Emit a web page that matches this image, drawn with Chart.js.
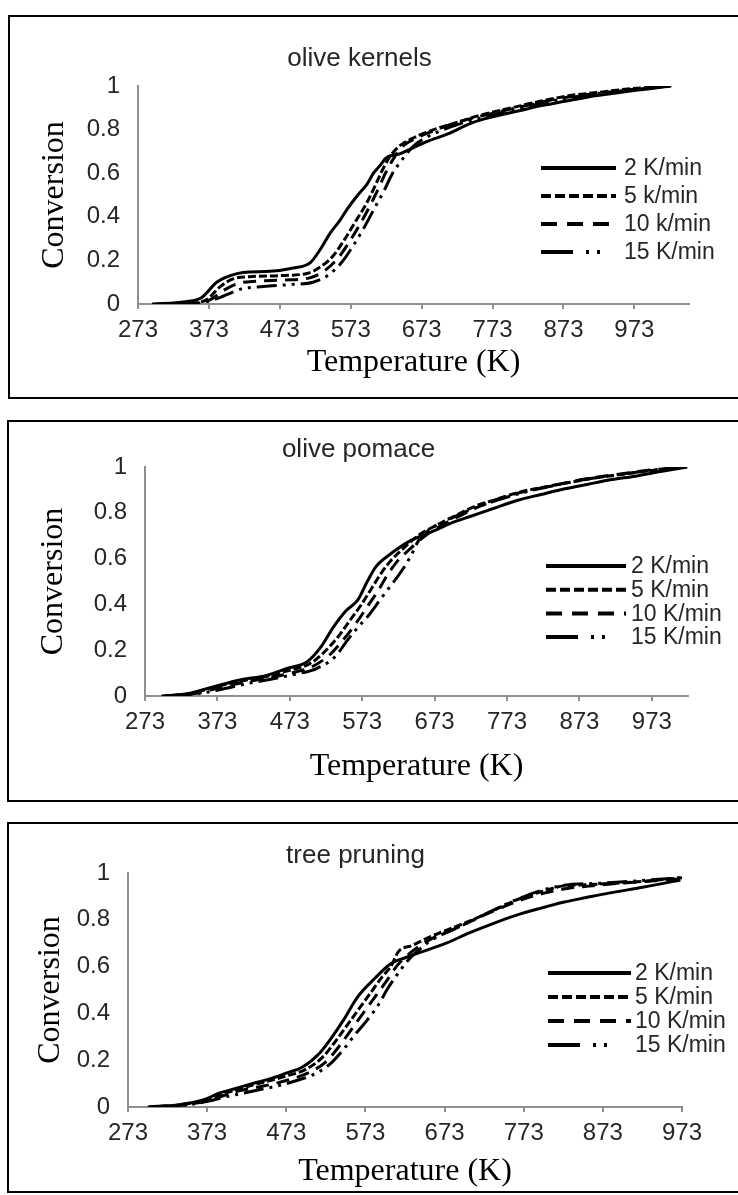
<!DOCTYPE html>
<html><head><meta charset="utf-8">
<script src="https://cdn.jsdelivr.net/npm/chart.js@4.4.1/dist/chart.umd.min.js"></script>
<style>
html,body{margin:0;padding:0;background:#fff;width:738px;height:1195px;overflow:hidden;position:relative}
.panel{position:absolute;box-sizing:border-box;border:2px solid #000;background:#fff}
.panel canvas{display:block}
</style></head><body>
<div class="panel" style="left:8px;top:15px;width:733px;height:384px"><canvas id="c1" width="729" height="380"></canvas></div>
<div class="panel" style="left:7px;top:420px;width:733px;height:382px"><canvas id="c2" width="729" height="378"></canvas></div>
<div class="panel" style="left:7px;top:822px;width:733px;height:371px"><canvas id="c3" width="729" height="367"></canvas></div>
<script>
// ---- tick labels ----
const xTicks = [273,373,473,573,673,773,873,973];
const yTicks = [0,0.2,0.4,0.6,0.8,1];

// ---- olive kernels ----
const kernelsLabels = ['2 K/min','5 k/min','10 k/min','15 K/min'];
const kernelsT2 = [293,340,363,384,403,421,459,492,516,530,544,558,569,583,596,605,613,623,643,660,680,710,743,775,809,842,875,908,941,975,1000,1025];
const kernelsC2 = [0,0.01,0.03,0.1,0.13,0.145,0.15,0.165,0.19,0.25,0.325,0.385,0.44,0.50,0.55,0.60,0.63,0.67,0.69,0.715,0.745,0.78,0.83,0.86,0.885,0.91,0.93,0.95,0.965,0.98,0.99,1.0];
const kernelsT5 = [300,350,370,389,407,430,470,511,530,548,565,580,595,607,617,627,640,660,690,720,760,800,840,880,920,960,1000,1022];
const kernelsC5 = [0,0.005,0.02,0.08,0.115,0.125,0.13,0.14,0.17,0.22,0.30,0.38,0.46,0.54,0.61,0.67,0.72,0.76,0.80,0.83,0.87,0.90,0.93,0.955,0.97,0.985,0.995,1.0];
const kernelsT10 = [310,355,375,395,415,440,480,515,535,555,570,585,600,612,622,632,645,665,690,720,760,800,840,880,920,960,1000,1022];
const kernelsC10 = [0,0.005,0.02,0.065,0.095,0.105,0.11,0.12,0.15,0.21,0.28,0.36,0.45,0.53,0.60,0.66,0.72,0.76,0.795,0.83,0.865,0.895,0.925,0.95,0.965,0.98,0.995,1.0];
const kernelsT15 = [320,360,380,400,420,450,490,520,540,560,575,590,605,620,632,645,660,680,700,730,765,800,840,880,920,960,1000,1022];
const kernelsC15 = [0,0.005,0.02,0.045,0.07,0.08,0.09,0.10,0.13,0.19,0.26,0.34,0.43,0.52,0.60,0.66,0.72,0.765,0.795,0.83,0.86,0.89,0.92,0.945,0.965,0.98,0.993,1.0];

// ---- olive pomace ----
const pomaceLabels = ['2 K/min','5 K/min','10 K/min','15 K/min'];
const pomaceT2 = [296,331,367,404,441,469,497,515,533,550,567,580,592,612,638,671,700,723,755,788,820,853,885,918,950,985,1022];
const pomaceC2 = [0,0.01,0.04,0.07,0.09,0.12,0.15,0.21,0.30,0.37,0.42,0.50,0.565,0.62,0.675,0.72,0.76,0.785,0.82,0.855,0.88,0.905,0.925,0.945,0.96,0.98,1.0];
const pomaceT5 = [300,335,370,405,440,470,500,520,540,556,572,586,600,615,630,650,675,700,730,760,790,820,855,890,925,960,990,1020];
const pomaceC5 = [0,0.01,0.04,0.065,0.085,0.11,0.14,0.19,0.26,0.33,0.40,0.47,0.54,0.60,0.645,0.70,0.745,0.785,0.83,0.86,0.89,0.91,0.93,0.95,0.965,0.98,0.99,1.0];
const pomaceT10 = [305,340,375,410,445,475,505,528,548,565,580,595,608,622,640,660,685,710,740,770,800,830,860,895,930,965,995,1020];
const pomaceC10 = [0,0.01,0.035,0.06,0.08,0.10,0.13,0.18,0.25,0.32,0.39,0.46,0.53,0.59,0.645,0.70,0.75,0.79,0.835,0.87,0.895,0.915,0.935,0.955,0.97,0.985,0.993,1.0];
const pomaceT15 = [310,345,380,415,450,480,510,535,553,567,580,600,612,625,640,651,670,695,720,750,780,810,840,870,900,935,970,1000,1020];
const pomaceC15 = [0,0.01,0.03,0.055,0.075,0.095,0.12,0.17,0.245,0.30,0.345,0.43,0.48,0.535,0.61,0.68,0.735,0.775,0.81,0.845,0.875,0.9,0.92,0.94,0.955,0.97,0.985,0.995,1.0];

// ---- tree pruning ----
const pruningLabels = ['2 K/min','5 K/min','10 K/min','15 K/min'];
const pruningT2 = [298,338,368,389,410,430,452,473,493,515,531,545,563,585,604,625,646,675,705,735,764,795,823,852,882,925,971];
const pruningC2 = [0,0.01,0.03,0.06,0.08,0.10,0.12,0.145,0.17,0.23,0.30,0.37,0.47,0.55,0.61,0.64,0.665,0.70,0.745,0.785,0.82,0.85,0.875,0.895,0.915,0.94,0.97];
const pruningT5 = [300,340,370,392,412,432,455,476,497,518,535,550,565,580,595,605,615,632,650,675,705,735,764,795,823,852,882,925,973];
const pruningC5 = [0,0.01,0.03,0.055,0.075,0.095,0.115,0.135,0.16,0.21,0.28,0.35,0.42,0.49,0.56,0.60,0.665,0.69,0.72,0.755,0.795,0.84,0.885,0.92,0.945,0.95,0.955,0.965,0.98];
const pruningT10 = [305,345,372,395,415,437,458,480,500,522,540,555,570,585,600,612,625,640,660,685,710,740,770,800,830,860,890,930,973];
const pruningC10 = [0,0.01,0.025,0.05,0.07,0.085,0.10,0.12,0.145,0.19,0.26,0.33,0.40,0.47,0.54,0.60,0.645,0.685,0.725,0.76,0.80,0.845,0.885,0.915,0.935,0.945,0.955,0.965,0.975];
const pruningT15 = [310,350,375,398,420,440,462,483,505,527,545,560,575,590,600,612,625,640,660,685,710,740,770,800,830,860,890,930,973];
const pruningC15 = [0,0.01,0.025,0.045,0.06,0.075,0.09,0.11,0.135,0.18,0.245,0.31,0.37,0.44,0.50,0.56,0.62,0.67,0.72,0.76,0.80,0.85,0.895,0.93,0.95,0.955,0.96,0.97,0.98];

// ---- styles ----
const SANS = "'Liberation Sans', Arial, sans-serif";
const SERIF = "'Liberation Serif', 'Times New Roman', serif";
const lineDashes = [[], [8,3], [13,8], [20,6,3,6,3,6]];
const legendDashes = [[], [10,4], [16,10], [32,13,3,8,3,40]];
const AXIS = '#8f8f8f';
const TXT = '#262626';

const pts = (T, C) => T.map((t, i) => ({x: t, y: C[i]}));

const dashLegend = {
  id: 'dashLegend',
  afterDatasetsDraw(chart, args, o) {
    const {ctx, chartArea} = chart;
    ctx.save();
    chart.data.datasets.forEach((d, i) => {
      const y = chartArea.top + o.rowY + i * o.rowGap;
      ctx.beginPath();
      ctx.setLineDash(legendDashes[i]);
      ctx.lineWidth = 4;
      ctx.strokeStyle = '#000';
      ctx.moveTo(chartArea.left + o.x0, y);
      ctx.lineTo(chartArea.left + o.x1, y);
      ctx.stroke();
      ctx.setLineDash([]);
      ctx.fillStyle = TXT;
      ctx.font = '23px ' + SANS;
      ctx.textAlign = 'left';
      ctx.textBaseline = 'middle';
      ctx.fillText(d.label, chartArea.left + o.textX, y + 1);
    });
    ctx.restore();
  }
};

function makeChart(id, title, labels, series, L) {
  new Chart(document.getElementById(id), {
    type: 'line',
    data: {
      datasets: series.map((s, i) => ({
        label: labels[i],
        data: pts(s[0], s[1]),
        borderColor: '#000',
        borderWidth: 3,
        borderDash: lineDashes[i],
        pointRadius: 0,
        fill: false,
        cubicInterpolationMode: 'monotone'
      }))
    },
    plugins: [dashLegend],
    options: {
      responsive: false,
      animation: false,
      layout: {padding: L.pad},
      plugins: {
        legend: {display: false},
        tooltip: {enabled: false},
        title: {display: true, text: title, color: TXT,
          font: {family: SANS, size: 26, weight: 'normal', lineHeight: 1.2},
          padding: {top: L.tTop, bottom: L.tBot}},
        dashLegend: L.legend
      },
      scales: {
        x: {
          type: 'linear', min: 273, max: L.xMax,
          afterBuildTicks: s => { s.ticks = xTicks.map(v => ({value: v})); },
          afterFit: s => { s.height = L.xH; },
          ticks: {color: TXT, padding: 7, maxRotation: 0, autoSkip: false,
            font: {family: SANS, size: 24}, callback: v => String(v)},
          grid: {drawOnChartArea: false, drawTicks: true, tickLength: 5, color: AXIS, lineWidth: 2},
          border: {display: true, color: AXIS, width: 2},
          title: {display: true, text: 'Temperature (K)', color: '#000',
            font: {family: SERIF, size: 32, lineHeight: 1.2}, padding: {top: 0, bottom: L.xtPad}}
        },
        y: {
          type: 'linear', min: 0, max: 1,
          afterBuildTicks: s => { s.ticks = yTicks.map(v => ({value: v})); },
          afterFit: s => { s.width = L.yW; },
          ticks: {color: TXT, padding: 18, font: {family: SANS, size: 24}, callback: v => String(v)},
          grid: {drawOnChartArea: false, drawTicks: false, color: AXIS},
          border: {display: true, color: AXIS, width: 2},
          title: {display: true, text: 'Conversion', color: '#000',
            font: {family: SERIF, size: 32, lineHeight: 1.2}, padding: {top: L.ytPad, bottom: 0}}
        }
      }
    }
  });
}

makeChart('c1', 'olive kernels', kernelsLabels,
  [[kernelsT2, kernelsC2], [kernelsT5, kernelsC5], [kernelsT10, kernelsC10], [kernelsT15, kernelsC15]],
  {pad: {left: 20, right: 50, top: 0, bottom: 10}, tTop: 26.4, tBot: 11.4, yW: 108, ytPad: 5, xH: 83, xtPad: 5, xMax: 1050,
   legend: {x0: 403, x1: 478, textX: 486, rowY: 82, rowGap: 28}});

makeChart('c2', 'olive pomace', pomaceLabels,
  [[pomaceT2, pomaceC2], [pomaceT5, pomaceC5], [pomaceT10, pomaceC10], [pomaceT15, pomaceC15]],
  {pad: {left: 20, right: 50, top: 0, bottom: 8}, tTop: 12.4, tBot: 1.4, yW: 116, ytPad: 5, xH: 96, xtPad: 6, xMax: 1023,
   legend: {x0: 401, x1: 481, textX: 486, rowY: 99, rowGap: 23.7}});

makeChart('c3', 'tree pruning', pruningLabels,
  [[pruningT2, pruningC2], [pruningT5, pruningC5], [pruningT10, pruningC10], [pruningT15, pruningC15]],
  {pad: {left: 20, right: 56, top: 0, bottom: 0}, tTop: 16.4, tBot: 1.4, yW: 99, ytPad: 2, xH: 84, xtPad: 0, xMax: 973,
   legend: {x0: 420, x1: 503, textX: 507, rowY: 100, rowGap: 24}});
</script>
</body></html>
